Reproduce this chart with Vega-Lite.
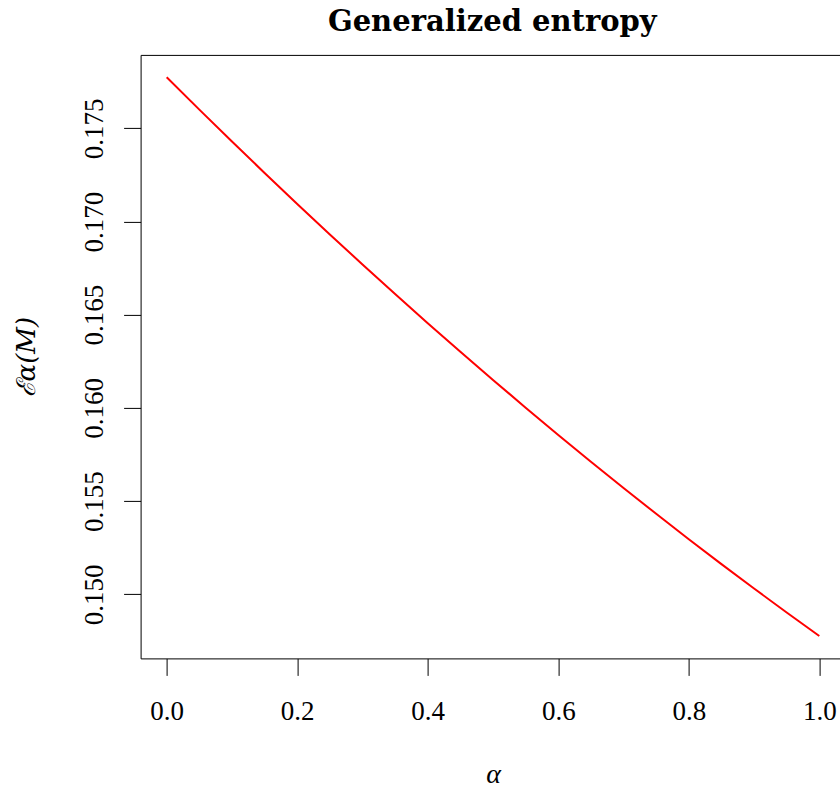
{
  "$schema": "https://vega.github.io/schema/vega-lite/v6.json",
  "width": 699.4,
  "height": 603.5,
  "autosize": {"type": "none"},
  "padding": {"left": 140.6, "top": 54.9, "right": 0, "bottom": 130.6},
  "background": "white",
  "config": {"view": {"stroke": null}},
  "title": {
    "text": "Generalized entropy",
    "font": "DejaVu Serif",
    "fontWeight": "bold",
    "fontSize": 29,
    "color": "black",
    "anchor": "middle",
    "frame": "group",
    "baseline": "alphabetic",
    "offset": 23,
    "dx": 2,
    "dy": 28
  },
  "data": {"values": [
    {"alpha": 0.00, "E": 0.177740},
    {"alpha": 0.05, "E": 0.176004},
    {"alpha": 0.10, "E": 0.174292},
    {"alpha": 0.15, "E": 0.172606},
    {"alpha": 0.20, "E": 0.170944},
    {"alpha": 0.25, "E": 0.169308},
    {"alpha": 0.30, "E": 0.167696},
    {"alpha": 0.35, "E": 0.166110},
    {"alpha": 0.40, "E": 0.164548},
    {"alpha": 0.45, "E": 0.163012},
    {"alpha": 0.50, "E": 0.161500},
    {"alpha": 0.55, "E": 0.160014},
    {"alpha": 0.60, "E": 0.158552},
    {"alpha": 0.65, "E": 0.157116},
    {"alpha": 0.70, "E": 0.155704},
    {"alpha": 0.75, "E": 0.154318},
    {"alpha": 0.80, "E": 0.152956},
    {"alpha": 0.85, "E": 0.151620},
    {"alpha": 0.90, "E": 0.150308},
    {"alpha": 0.95, "E": 0.149022},
    {"alpha": 1.00, "E": 0.147760}
  ]},
  "layer": [
    {
      "mark": {"type": "line", "color": "#ff0000", "strokeWidth": 2, "clip": true},
      "encoding": {
        "x": {
          "field": "alpha", "type": "quantitative",
          "scale": {"domain": [-0.04, 1.0317], "nice": false, "zero": false},
          "axis": {
            "orient": "bottom",
            "values": [0, 0.2, 0.4, 0.6, 0.8, 1.0],
            "format": ".1f",
            "grid": false,
            "domain": true, "domainColor": "black", "domainWidth": 1,
            "ticks": true, "tickColor": "black", "tickWidth": 1, "tickSize": 17,
            "labelFont": "Liberation Serif", "labelFontSize": 27, "labelColor": "black",
            "labelBaseline": "alphabetic", "labelPadding": 44, "labelFlush": false, "labelOverlap": false,
            "title": "α",
            "titleFont": "Liberation Serif", "titleFontStyle": "italic", "titleFontWeight": "normal",
            "titleFontSize": 28, "titleColor": "black",
            "titleBaseline": "alphabetic", "titleAlign": "center",
            "titleX": 352.4, "titleY": 124
          }
        },
        "y": {
          "field": "E", "type": "quantitative",
          "scale": {"domain": [0.14656, 0.17894], "nice": false, "zero": false},
          "axis": {
            "orient": "left",
            "values": [0.150, 0.155, 0.160, 0.165, 0.170, 0.175],
            "format": ".3f",
            "grid": false,
            "domain": true, "domainColor": "black", "domainWidth": 1,
            "ticks": true, "tickColor": "black", "tickWidth": 1, "tickSize": 17,
            "labelFont": "Liberation Serif", "labelFontSize": 27, "labelColor": "black",
            "labelAngle": -90, "labelAlign": "center", "labelBaseline": "alphabetic",
            "labelPadding": 21, "labelFlush": false, "labelOverlap": false,
            "title": "ℰα(M)",
            "titleFont": "DejaVu Serif", "titleFontStyle": "italic", "titleFontWeight": "normal",
            "titleFontSize": 26, "titleColor": "black",
            "titleAngle": -90, "titleBaseline": "alphabetic", "titleAlign": "center",
            "titleX": -106, "titleY": 301.75
          }
        }
      }
    },
    {
      "mark": {"type": "line", "opacity": 0},
      "encoding": {
        "x": {
          "field": "alpha", "type": "quantitative",
          "axis": {
            "orient": "top", "labels": false, "ticks": false, "grid": false,
            "minExtent": 0, "maxExtent": 0,
            "domain": true, "domainColor": "black", "domainWidth": 1, "title": null
          }
        },
        "y": {"field": "E", "type": "quantitative"}
      }
    }
  ],
  "resolve": {"axis": {"x": "independent"}}
}
